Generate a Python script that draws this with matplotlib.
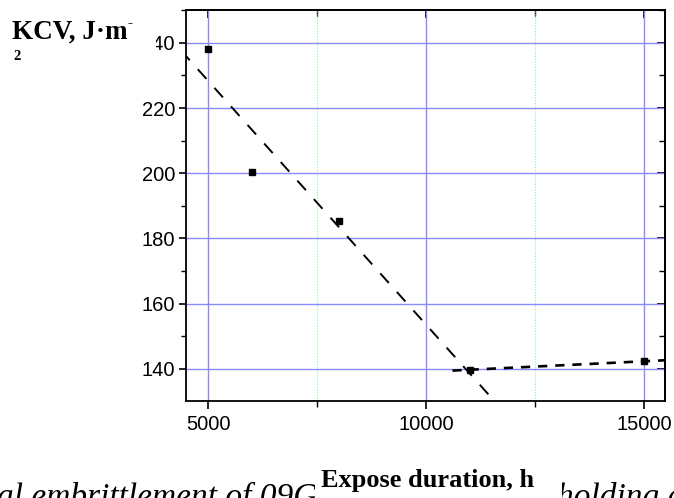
import numpy as np
import matplotlib
matplotlib.use("Agg")
import matplotlib.pyplot as plt
from matplotlib.patches import Rectangle
from matplotlib.ticker import MultipleLocator

# ---- data ----
hours = [5000, 6000, 8000, 11000, 15000]
kcv = [238.1, 200.5, 185.3, 139.7, 142.3]
fit1_idx = [0, 1, 2, 3]          # points used for the steep fit
fit2_idx = [3, 4]                # points used for the shallow fit
fit1_range = [4000, 11430]
fit2_range = [10600, 15600]
x_ticks = [5000, 10000, 15000]
y_ticks = [140, 160, 180, 200, 220, 240]
ylabel_main = "KCV, J·m"
ylabel_sup = "-"
ylabel_two = "2"
xlabel_text = "Expose duration, h"
caption_left = "al embrittlement of 09G2S"
caption_right = "holding at"

W, H = 674, 498
fig = plt.figure(figsize=(W / 100, H / 100), dpi=100)
ax = fig.add_axes([186 / W, 1 - 400.7 / H, (665 - 186) / W, (400.7 - 10) / H])

ax.set_xlim(4490, 15475)
ax.set_ylim(130.2, 250.1)

# grid
ax.set_xticks(x_ticks)
ax.set_yticks(y_ticks)
ax.xaxis.set_minor_locator(MultipleLocator(2500))
ax.yaxis.set_minor_locator(MultipleLocator(10))
ax.grid(True, which="major", axis="both", color="#8a8aff", lw=1.0, zorder=0)
ax.grid(True, which="minor", axis="x", color="#90ee90", lw=0.8, ls=(0, (1, 1.5)), zorder=0)
ax.set_axisbelow(True)

# fits
x = np.array(hours, dtype=float)
y = np.array(kcv, dtype=float)
p1 = np.polyfit(x[fit1_idx], y[fit1_idx], 1)
p2 = np.polyfit(x[fit2_idx], y[fit2_idx], 1)
xf1 = np.array(fit1_range, dtype=float)
xf2 = np.array(fit2_range, dtype=float)
ax.plot(xf1, np.polyval(p1, xf1), color="black", lw=1.4, ls=(0, (6.6, 6.2)), zorder=3)
ax.plot(xf2, np.polyval(p2, xf2), color="black", lw=1.9, ls=(0, (3.5, 3.0)), zorder=3)

ax.plot(hours, kcv, ls="none", marker="s", ms=5, color="black", zorder=4)

# spines & ticks
for s in ax.spines.values():
    s.set_linewidth(1.3)
    s.set_color("black")
ax.tick_params(axis="x", which="major", direction="out", length=6, width=1.2,
               labelsize=14.5, pad=4.5)
ax.tick_params(axis="x", which="minor", direction="out", length=4, width=1.0)
ax.tick_params(axis="y", which="major", direction="out", length=5, width=1.2,
               labelsize=14.5, pad=3.0)
ax.tick_params(axis="y", which="minor", direction="out", length=3.5, width=1.0)
for lab in ax.get_xticklabels() + ax.get_yticklabels():
    lab.set_fontfamily("Liberation Sans")

# inward ticks on top and right
secx = ax.secondary_xaxis("top")
secx.set_xticks(x_ticks)
secx.xaxis.set_minor_locator(MultipleLocator(2500))
secx.tick_params(which="major", direction="in", length=6, width=1.3, labeltop=False)
secx.tick_params(which="minor", direction="in", length=4, width=1.0)
secy = ax.secondary_yaxis("right")
secy.set_yticks(y_ticks)
secy.yaxis.set_minor_locator(MultipleLocator(10))
secy.tick_params(which="major", direction="in", length=6, width=1.3, labelright=False)
secy.tick_params(which="minor", direction="in", length=4, width=1.0)
for sp in list(secx.spines.values()) + list(secy.spines.values()):
    sp.set_linewidth(1.3)

# caption (partly visible, under x label)
serif = ["Liberation Serif", "DejaVu Serif"]
fig.text(-3 / W, 1 - 506 / H, caption_left, fontsize=24, style="italic",
         family=serif, ha="left", va="baseline", zorder=1)
fig.text(557 / W, 1 - 506 / H, caption_right, fontsize=24, style="italic",
         family=serif, ha="left", va="baseline", zorder=1)

# white boxes
fig.patches.append(Rectangle((315 / W, 0), (562 - 315) / W, (498 - 450) / H,
                             transform=fig.transFigure, facecolor="white",
                             edgecolor="none", zorder=2))
fig.patches.append(Rectangle((0, 1 - 66 / H), 156 / W, 60 / H,
                             transform=fig.transFigure, facecolor="white",
                             edgecolor="none", zorder=2))

# x label
fig.text(428 / W, 1 - 487 / H, xlabel_text, fontsize=19, fontweight="bold",
         family=serif, ha="center", va="baseline", zorder=3)

# y label
fig.text(12 / W, 1 - 39 / H, ylabel_main, fontsize=19.5, fontweight="bold",
         family=serif, ha="left", va="baseline", zorder=3)
fig.text(128 / W, 1 - 27 / H, ylabel_sup, fontsize=11, fontweight="bold",
         family=serif, ha="left", va="baseline", zorder=3)
fig.text(13 / W, 1 - 60 / H, ylabel_two, fontsize=10.5, fontweight="bold",
         family=serif, ha="left", va="baseline", zorder=3)

fig.savefig("out.png", dpi=100)
